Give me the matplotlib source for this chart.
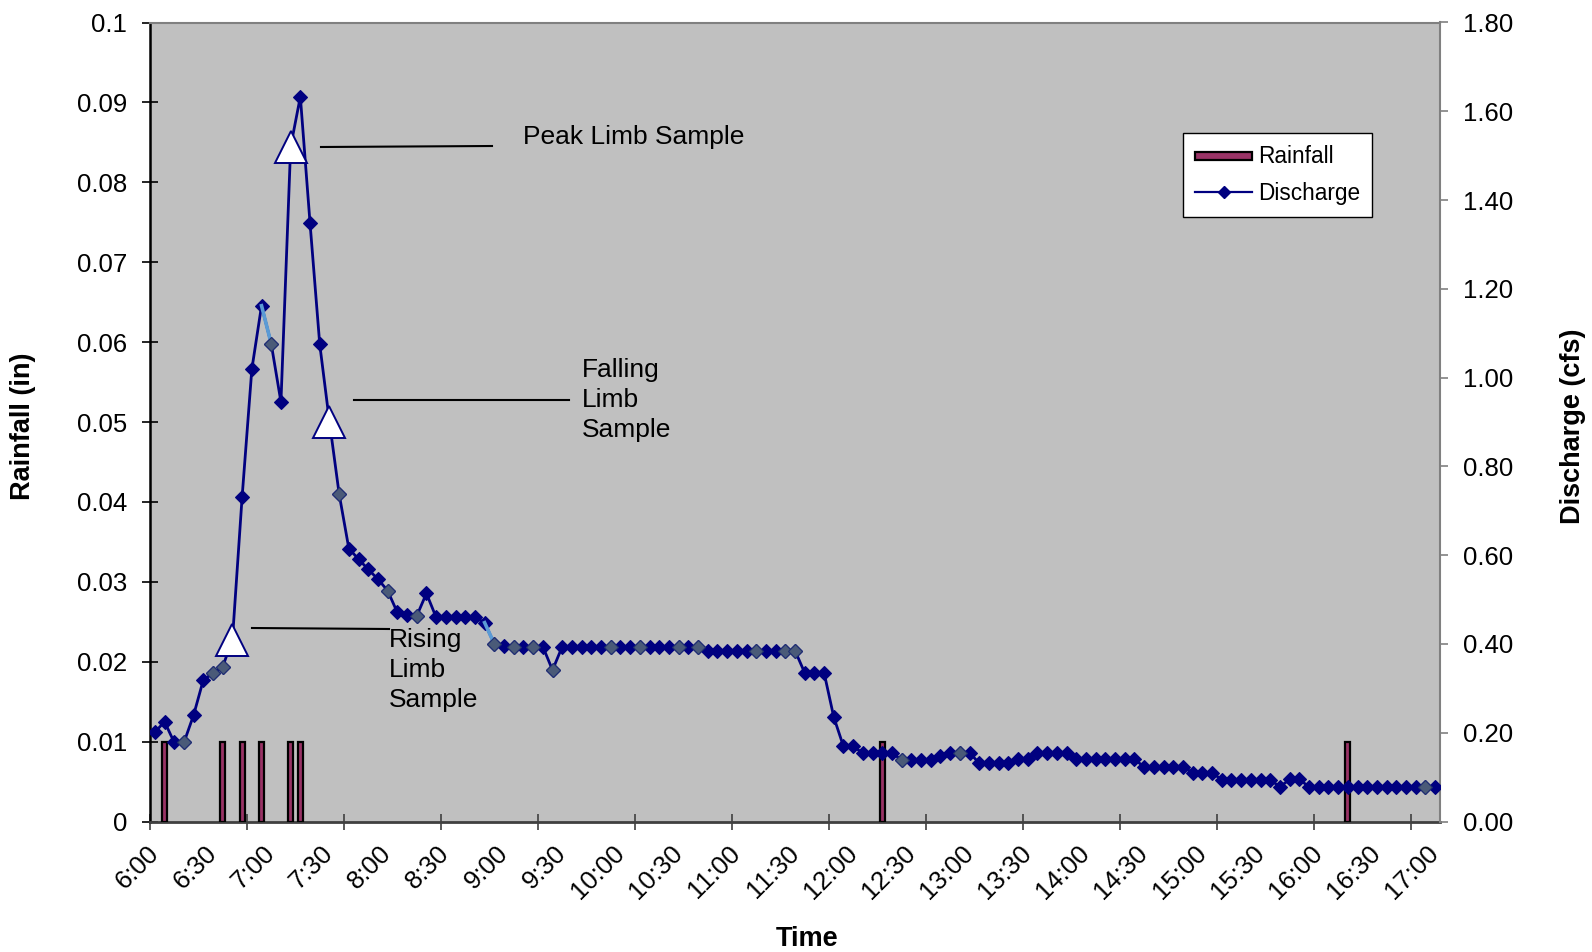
import matplotlib
matplotlib.use("Agg")
import matplotlib.pyplot as plt
from matplotlib.patches import Rectangle
from matplotlib.lines import Line2D
from matplotlib.legend_handler import HandlerPatch

plt.rcParams['font.family'] = ['Liberation Sans', 'DejaVu Sans']

# ---------------- data ----------------
# 5-minute categories from 6:00 to 17:00 (133 categories)
time_labels = ["6:00", "6:30", "7:00", "7:30", "8:00", "8:30", "9:00", "9:30",
               "10:00", "10:30", "11:00", "11:30", "12:00", "12:30", "13:00",
               "13:30", "14:00", "14:30", "15:00", "15:30", "16:00", "16:30", "17:00"]

discharge = [
    0.201, 0.225, 0.178, 0.178, 0.240, 0.319, 0.334, 0.349, 0.410, 0.732,
    1.019, 1.162, 1.076, 0.945, 1.520, 1.633, 1.348, 1.075, 0.901, 0.738,
    0.615, 0.591, 0.568, 0.546, 0.520, 0.471, 0.465, 0.463, 0.514, 0.460,
    0.460, 0.460, 0.460, 0.460, 0.448, 0.400, 0.395, 0.392, 0.392, 0.392,
    0.394, 0.341, 0.394, 0.394, 0.392, 0.392, 0.392, 0.392, 0.392, 0.392,
    0.392, 0.392, 0.392, 0.392, 0.392, 0.392, 0.392, 0.385, 0.385, 0.385,
    0.385, 0.385, 0.385, 0.385, 0.385, 0.385, 0.385, 0.335, 0.335, 0.335,
    0.235, 0.169, 0.169, 0.154, 0.154, 0.154, 0.154, 0.139, 0.139, 0.139,
    0.139, 0.148, 0.155, 0.155, 0.155, 0.131, 0.131, 0.131, 0.131, 0.140,
    0.140, 0.155, 0.155, 0.155, 0.155, 0.140, 0.140, 0.140, 0.140, 0.140,
    0.140, 0.140, 0.123, 0.123, 0.123, 0.123, 0.123, 0.110, 0.110, 0.110,
    0.094, 0.094, 0.094, 0.094, 0.094, 0.094, 0.078, 0.095, 0.095, 0.078,
    0.078, 0.078, 0.078, 0.078, 0.078, 0.078, 0.078, 0.078, 0.078, 0.078,
    0.078, 0.078, 0.078]

rain_idx = [1, 7, 9, 11, 14, 15, 75, 123]
rain_vals = [0.01, 0.01, 0.01, 0.01, 0.01, 0.01, 0.01, 0.01]

sample_idx = [8, 14, 18]          # rising, peak, falling limb samples
grey_idx = [3, 6, 7, 12, 19, 24, 27, 35, 37, 39, 41, 47, 50, 54, 56, 62, 65, 66,
            77, 83, 131]
light_seg = [(11, 12), (34, 35)]

# ---------------- figure ----------------
W, H = 1592, 952
fig = plt.figure(figsize=(W / 100, H / 100), dpi=100)
L, R, T, B = 150, 1440, 22.5, 821.5
ax = fig.add_axes([L / W, 1 - B / H, (R - L) / W, (B - T) / H])
ax.set_facecolor('#c0c0c0')
ax2 = ax.twinx()

def fx(x):
    return x / W

def fy(y):
    return 1 - y / H

FS = 18.5
n = len(discharge)
xs = list(range(n))

# rainfall bars
ax.bar(rain_idx, rain_vals, width=0.5, color='#993366', edgecolor='black',
       linewidth=1.6, zorder=3)
ax.set_ylim(0, 0.1)
ax.set_xlim(-0.5, n - 0.5)
ax.set_yticks([i / 100 for i in range(11)])
ax.set_yticklabels(['0'] + ['%g' % (i / 100) for i in range(1, 11)])

# discharge line
navy = '#000080'
ax2.plot(xs, discharge, color=navy, lw=2.0, marker='D', ms=6.8,
         markerfacecolor=navy, markeredgecolor=navy, markeredgewidth=0.8,
         zorder=3)
for a, b in light_seg:
    ax2.plot([a, b], [discharge[a], discharge[b]], color='#5b9bd5', lw=2.6,
             zorder=4)
ax2.plot(grey_idx, [discharge[i] for i in grey_idx], ls='none', marker='D',
         ms=6.8, markerfacecolor='#4a5a78', markeredgecolor='#1f2f70',
         markeredgewidth=0.8, zorder=5)
ax2.plot(sample_idx, [discharge[i] for i in sample_idx], ls='none', marker='^',
         ms=23, markerfacecolor='white', markeredgecolor=navy,
         markeredgewidth=1.4, zorder=6)
ax2.set_ylim(0, 1.8)
ax2.set_yticks([i * 0.2 for i in range(10)])
ax2.set_yticklabels(['%.2f' % (i * 0.2) for i in range(10)])

# x axis: ticks every 10 categories, labels every 6 categories
ax.set_xticks([-0.5 + 10 * k for k in range(14)])
ax.set_xticklabels([])
ax.set_xticks(list(range(0, n, 6)), minor=True)
ax.set_xticklabels(time_labels, minor=True, rotation=45, ha='right',
                   rotation_mode='anchor', va='center', fontsize=FS)
ax.tick_params(axis='x', which='minor', length=0, pad=20)
ax.tick_params(axis='x', which='major', direction='inout', length=11,
               width=1.2, color='#404040')
ax.tick_params(axis='y', direction='inout', length=12, width=1.2,
               labelsize=FS, pad=10.5)
ax2.tick_params(axis='y', direction='out', length=6, width=1.2,
                color='#808080', labelsize=FS, pad=10.5)

ax.spines['left'].set_linewidth(1.8)
ax.spines['bottom'].set_color('#404040')
ax.spines['bottom'].set_linewidth(2.0)
ax.spines['right'].set_visible(False)
ax.spines['top'].set_visible(False)
ax2.spines['left'].set_visible(False)
ax2.spines['bottom'].set_visible(False)
ax2.spines['right'].set_linewidth(1.5)
ax2.spines['right'].set_color('#808080')
ax2.spines['top'].set_linewidth(1.5)
ax2.spines['top'].set_color('#808080')

# axis titles
fig.text(fx(23), fy(426), 'Rainfall (in)', rotation=90, ha='center',
         va='center', fontsize=19.5, fontweight='bold')
fig.text(fx(1573), fy(426), 'Discharge (cfs)', rotation=90, ha='center',
         va='center', fontsize=19.5, fontweight='bold')
fig.text(fx(807), fy(939), 'Time', ha='center', va='center', fontsize=19.5,
         fontweight='bold')

# annotations
for (x0, y0, x1, y1) in [(321, 147, 492, 146), (354, 400, 569, 400),
                         (252, 628, 389, 629)]:
    fig.add_artist(Line2D([fx(x0), fx(x1)], [fy(y0), fy(y1)], color='black',
                          lw=1.5))
fig.text(fx(523), fy(137), 'Peak Limb Sample', ha='left', va='center',
         fontsize=19)
fig.text(fx(582), fy(400), 'Falling\nLimb\nSample', ha='left', va='center',
         fontsize=19, linespacing=1.33)
fig.text(fx(389), fy(670), 'Rising\nLimb\nSample', ha='left', va='center',
         fontsize=19, linespacing=1.33)

# legend
def thin_rect(legend, orig_handle, xdescent, ydescent, width, height, fontsize):
    return Rectangle((-xdescent, -ydescent + height * 0.22), width,
                     height * 0.5)

h_rain = Rectangle((0, 0), 1, 1, facecolor='#993366', edgecolor='black',
                   linewidth=1.6)
h_dis = Line2D([], [], color=navy, lw=1.6, marker='D', ms=6.5,
               markerfacecolor=navy)
leg = ax2.legend([h_rain, h_dis], ['Rainfall', 'Discharge'], loc='upper left',
                 bbox_to_anchor=((1183 - L) / (R - L), (B - 133) / (B - T)),
                 borderaxespad=0, fontsize=16.3, frameon=True, fancybox=False,
                 edgecolor='black', framealpha=1, handlelength=2.5,
                 handletextpad=0.25, labelspacing=0.6, borderpad=0.55,
                 handler_map={Rectangle: HandlerPatch(patch_func=thin_rect)})
leg.get_frame().set_linewidth(1.0)

fig.savefig('out.png', dpi=100)
